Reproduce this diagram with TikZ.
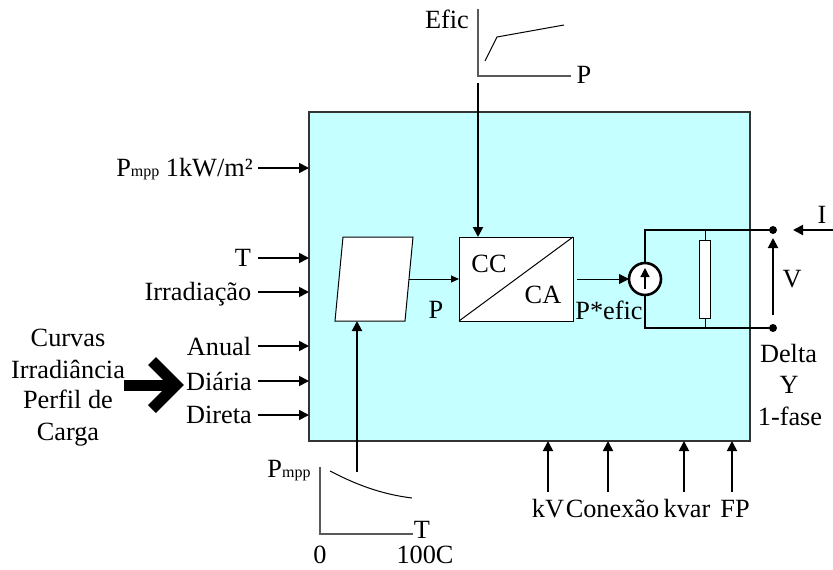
\documentclass[tikz,border=0pt]{standalone}
\usepackage{fontspec}
\setmainfont{Liberation Serif}
\usetikzlibrary{arrows.meta}
\definecolor{panel}{RGB}{198,255,255}
\newcommand{\subsz}[1]{{\fontsize{16}{16}\selectfont #1}}
\tikzset{
  lbl/.style={anchor=base,inner sep=0pt,font=\fontsize{26.3}{26.3}\selectfont},
  arr/.style={line width=1.8pt,-{Triangle[length=10pt,width=10pt]},shorten >=0pt},
  thinarr/.style={line width=1pt,-{Triangle[length=8pt,width=7pt]}},
  wire/.style={line width=2.6pt},
  axis/.style={line width=1.1pt,draw=black!65},
  curve/.style={line width=1pt},
  bl/.style={draw=black,line width=1pt,fill=white},
}
\begin{document}
\begin{tikzpicture}[x=1pt,y=-1pt]
\useasboundingbox (0,0) rectangle (833,570);
% main box
\node[draw=black!80,line width=1.2pt,fill=panel,minimum width=441pt,minimum height=329pt,inner sep=0pt,outer sep=0pt] (box) at (529.5,276.5) {};
% left labels
\node[lbl] (pm) at (184.5,176) {P\subsz{mpp} 1kW/m²};
\node[lbl] (t) at (243,266) {T};
\node[lbl] (ir) at (198,300) {Irradiação};
\node[lbl] (an) at (219,355) {Anual};
\node[lbl] (di) at (219,390) {Diária};
\node[lbl] (dr) at (219,423) {Direta};
\node[lbl] (c1) at (68,346) {Curvas};
\node[lbl] (c2) at (68,378) {Irradiância};
\node[lbl] (c3) at (68,408) {Perfil de};
\node[lbl] (c4) at (68,440) {Carga};
\foreach \n/\y in {pm/168,t/258,ir/292,an/346,di/381,dr/415}{
  \coordinate (\n s) at (258,\y);
  \coordinate (\n e) at (309,\y);
  \draw[arr] (\n s) -- (\n e);
}
% big arrow
\coordinate (bigs) at (124,385);
\coordinate (bigt) at (176,385);
\coordinate (bigu) at (152,361);
\coordinate (bigl) at (152,409);
\draw[line width=11pt] (bigs) -- (bigt);
\draw[line width=11pt,miter limit=4] (bigu) -- (bigt) -- (bigl);
% converter blocks
\draw[bl] (343,237) coordinate (pa) -- (413,237) -- (405,321) -- (335,321) -- cycle;
\coordinate (pr) at (409,279);
\coordinate (pb) at (357,321);
\node[bl,minimum width=114pt,minimum height=84pt,inner sep=0pt,outer sep=0pt] (conv) at (516,279) {};
\draw[line width=1pt] (conv.south west) -- (conv.north east);
\draw[thinarr] (pr) -- (conv.west);
\node[lbl] (p) at (436,318) {P};
\node[lbl] (cc) at (489,272) {CC};
\node[lbl] (ca) at (543,303) {CA};
\node[lbl] (pe) at (609,319) {P*efic};
% output circuit
\node[draw=black,wire,fill=white,circle,minimum size=32pt,inner sep=0pt,outer sep=0pt] (src) at (645,279) {};
\coordinate (tl) at (645,230);
\coordinate (bl2) at (645,328);
\node[fill=black,circle,minimum size=8pt,inner sep=0pt] (d1) at (773,230) {};
\node[fill=black,circle,minimum size=8pt,inner sep=0pt] (d2) at (773,328) {};
\coordinate (rt) at (705,230);
\coordinate (rb) at (705,328);
\draw[line width=1pt] (rt) -- (rb);
\node[draw=black,line width=1pt,fill=white,minimum width=11pt,minimum height=78pt,inner sep=0pt] (res) at (705,279) {};
\draw[wire] (src.north) -- (tl) -- (d1.center);
\draw[wire] (src.south) -- (bl2) -- (d2.center);
\coordinate (sb) at (645,289);
\coordinate (st) at (645,268);
\draw[line width=1.2pt,-{Triangle[length=9pt,width=9pt]}] (sb) -- (st);
\coordinate (conve) at (577,279);
\draw[arr,line width=1pt] (conve) -- (src.west);
\coordinate (vs) at (773,315);
\coordinate (ve) at (773,238);
\draw[arr,line width=2pt] (vs) -- (ve);
\coordinate (is) at (833,230);
\coordinate (ie) at (793,230);
\draw[arr,line width=2pt] (is) -- (ie);
\node[lbl] (vl) at (792,287) {V};
\node[lbl] (il) at (822,223) {I};
\node[lbl] (de) at (788.5,362) {Delta};
\node[lbl] (y) at (789,393) {Y};
\node[lbl] (fa) at (790,425) {1-fase};
% Efic plot
\coordinate (eo) at (478,76);
\coordinate (ey) at (478,9);
\coordinate (ex) at (571,76);
\draw[axis] (ey) -- (eo) -- (ex);
\coordinate (e1) at (485,61);
\coordinate (e2) at (497,37);
\coordinate (e3) at (564,25);
\draw[curve] (e1) -- (e2) -- (e3);
\node[lbl] (ef) at (447,28) {Efic};
\node[lbl] (px) at (584,83) {P};
\coordinate (es) at (478,83);
\draw[arr,line width=2pt] (es) -- (conv.north west -| es);
% Pmpp plot
\coordinate (po) at (320,534);
\coordinate (py) at (320,467);
\coordinate (ppx) at (413,534);
\draw[axis] (py) -- (po) -- (ppx);
\coordinate (c0) at (330,471);
\coordinate (c9) at (412,498);
\draw[curve] (c0) .. controls (355,484) and (380,494) .. (c9);
\node[lbl] (pp) at (289,477) {P\subsz{mpp}};
\node[lbl] (tx) at (422,538) {T};
\node[lbl] (zero) at (320,563) {0};
\node[lbl] (cien) at (425,563) {100C};
\coordinate (ps) at (357,472);
\draw[arr,line width=2pt] (ps) -- (pb);
% bottom arrows
\foreach \n/\x/\t/\lx in {kv/548/kV/548,co/608/Conexão/612.5,kq/684/kvar/687,fp/732/FP/735}{
  \coordinate (\n s) at (\x,492);
  \coordinate (\n e) at (\x,441);
  \draw[arr] (\n s) -- (\n e);
  \node[lbl] (\n l) at (\lx,517) {\t};
}
\end{tikzpicture}
\end{document}
